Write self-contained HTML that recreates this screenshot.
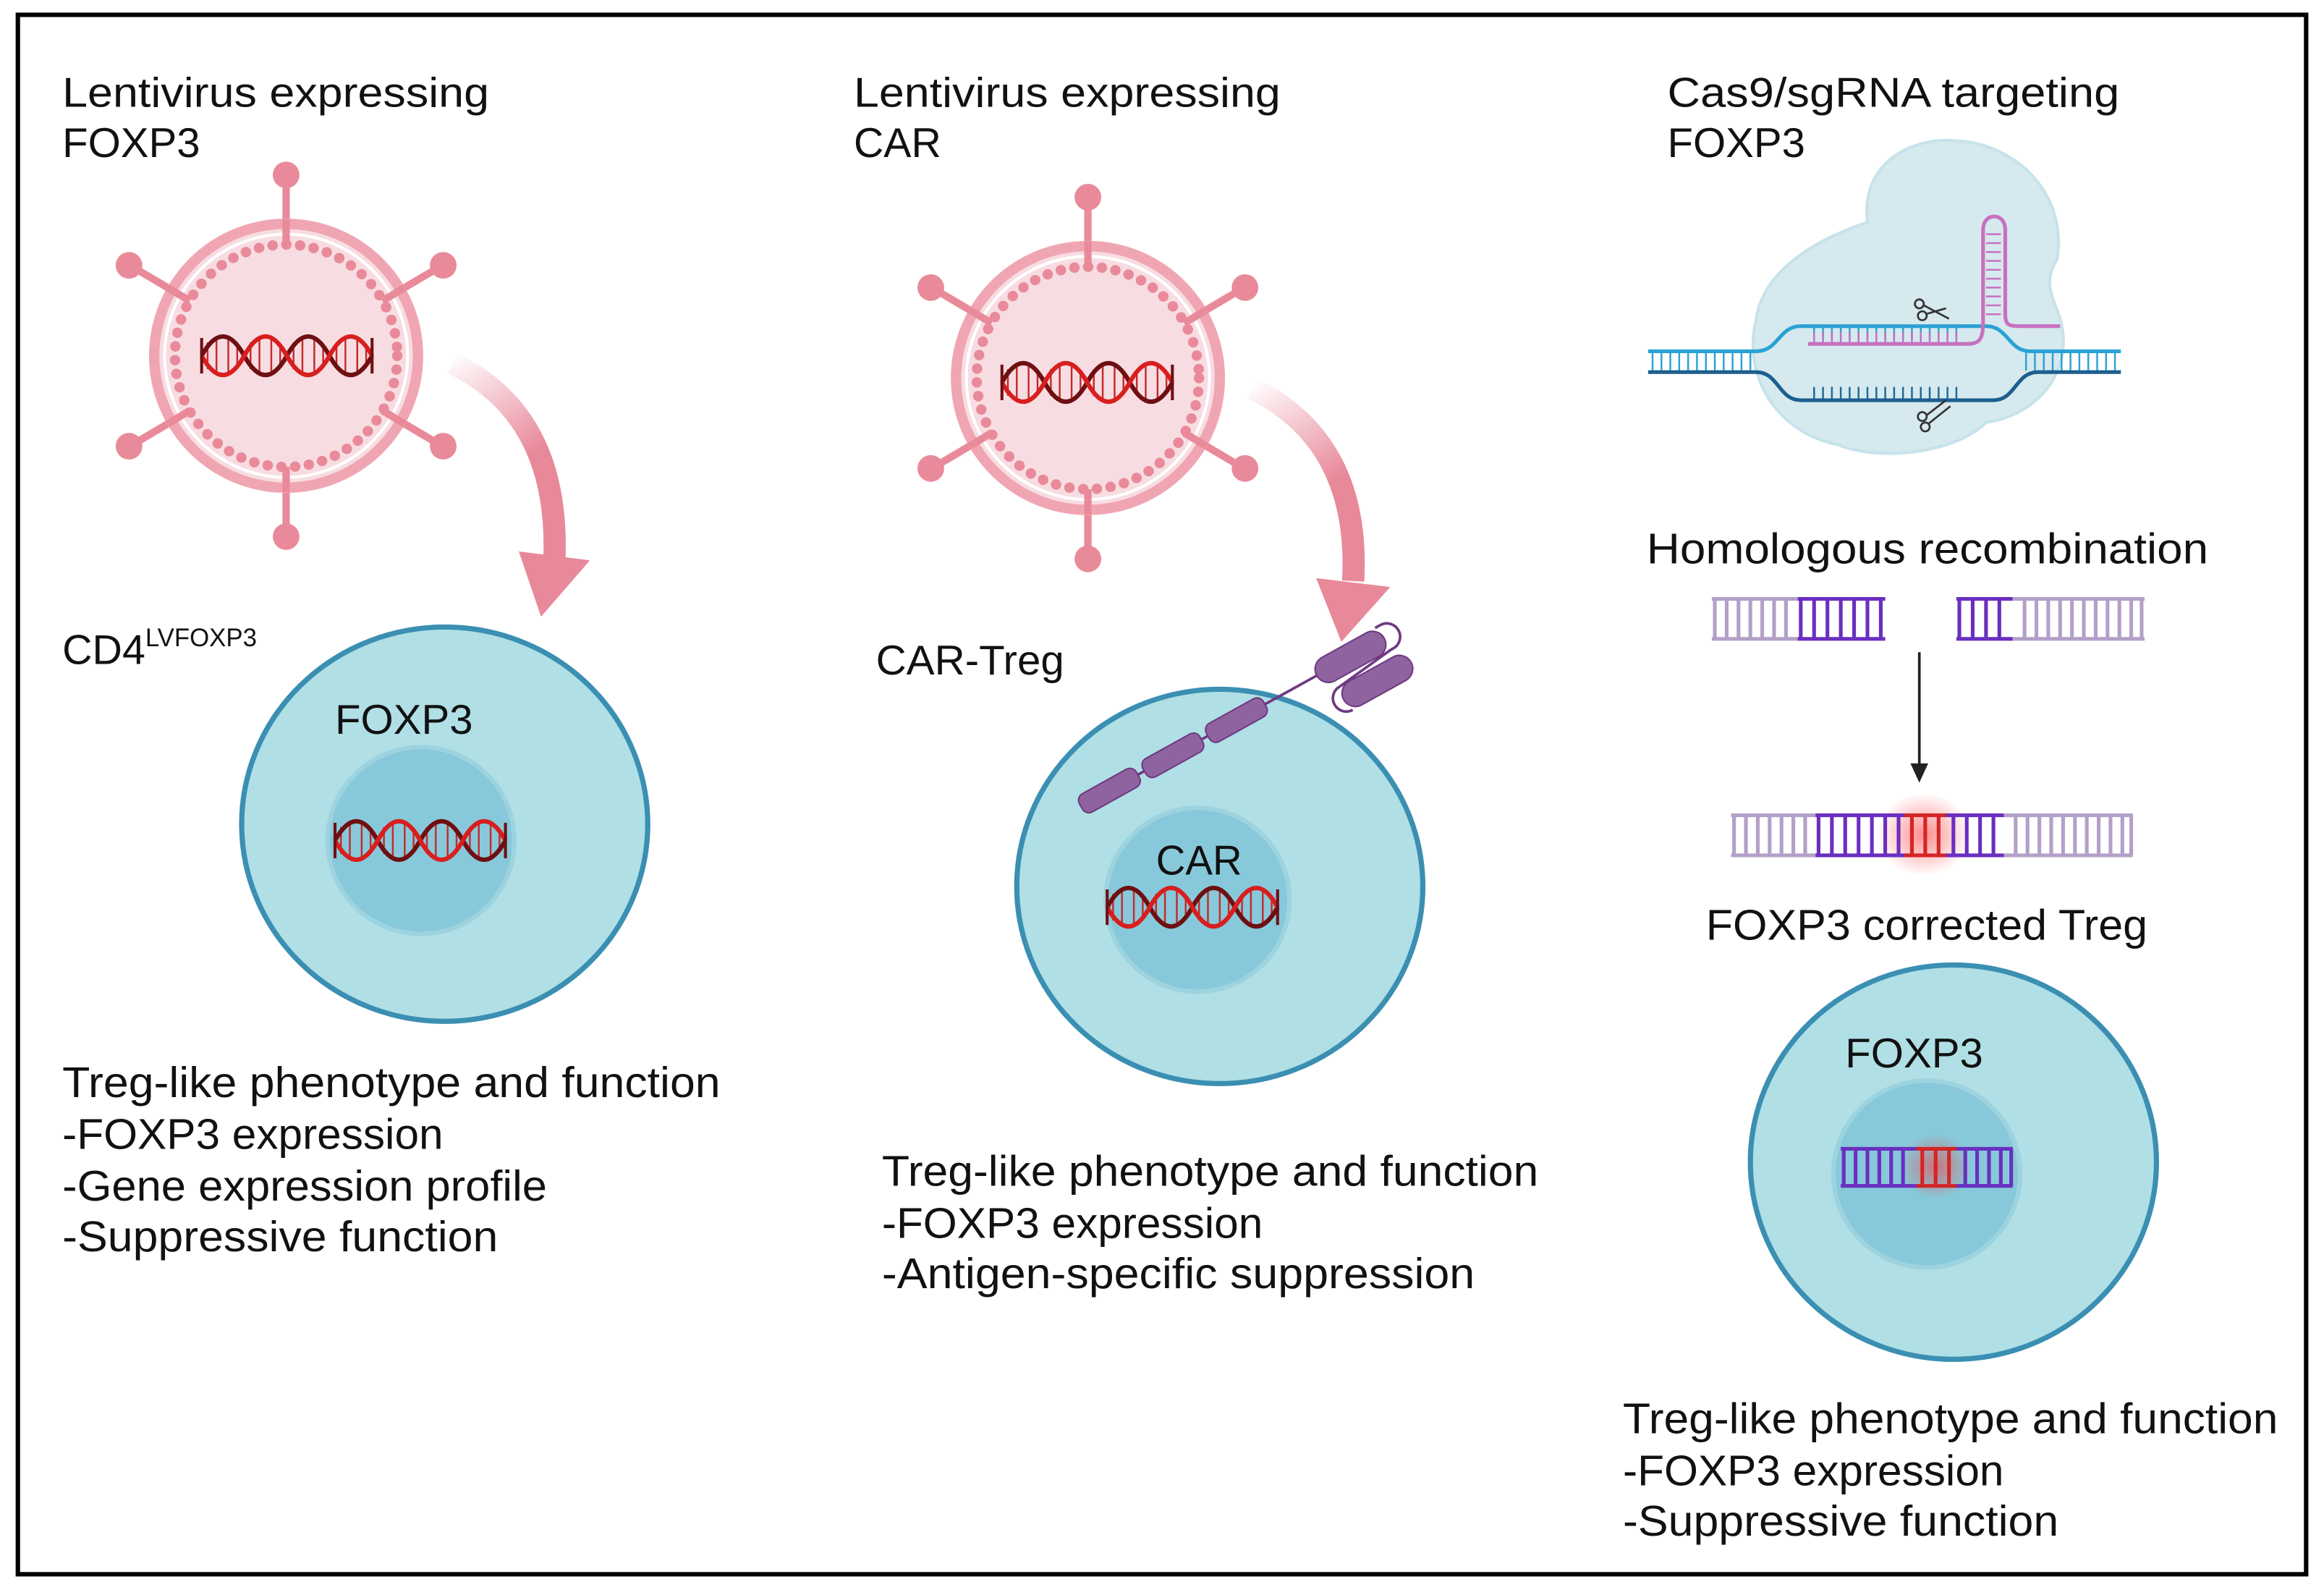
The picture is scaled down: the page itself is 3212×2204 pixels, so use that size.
<!DOCTYPE html>
<html><head><meta charset="utf-8"><style>
html,body{margin:0;padding:0;background:#fff}
svg{display:block}
text{font-family:"Liberation Sans",Arial,sans-serif;fill:#111}
</style></head><body>
<svg width="3212" height="2204" viewBox="0 0 1568 1076" xmlns="http://www.w3.org/2000/svg">
<defs>
<g id="dna">
  <g stroke="#c42a2a" stroke-width="1.2">
    <line x1="4" y1="-9" x2="4" y2="9"/><line x1="10" y1="-12" x2="10" y2="12"/><line x1="18" y1="-12" x2="18" y2="12"/><line x1="24" y1="-8" x2="24" y2="8"/>
    <line x1="33" y1="-9" x2="33" y2="9"/><line x1="39" y1="-12" x2="39" y2="12"/><line x1="47" y1="-12" x2="47" y2="12"/><line x1="53" y1="-8" x2="53" y2="8"/>
    <line x1="62" y1="-9" x2="62" y2="9"/><line x1="68" y1="-12" x2="68" y2="12"/><line x1="76" y1="-12" x2="76" y2="12"/><line x1="82" y1="-8" x2="82" y2="8"/>
    <line x1="91" y1="-9" x2="91" y2="9"/><line x1="97" y1="-12" x2="97" y2="12"/><line x1="105" y1="-12" x2="105" y2="12"/><line x1="111" y1="-8" x2="111" y2="8"/>
  </g>
  <path d="M0,0 Q14.4,-26 28.75,0 T57.5,0 T86.25,0 T115,0" fill="none" stroke="#6e0f12" stroke-width="3"/>
  <path d="M0,0 Q14.4,26 28.75,0 T57.5,0 T86.25,0 T115,0" fill="none" stroke="#d81e1e" stroke-width="3"/>
  <line x1="0" y1="-12" x2="0" y2="12" stroke="#6e0f12" stroke-width="2"/>
  <line x1="115" y1="-12" x2="115" y2="12" stroke="#6e0f12" stroke-width="2"/>
</g>
<g id="virus">
  <g stroke="#e98a9a" stroke-width="5">
    <line x1="0" y1="-92" x2="0" y2="-118"/><line x1="0" y1="92" x2="0" y2="118"/>
    <line x1="-80" y1="-46" x2="-102" y2="-59"/><line x1="80" y1="-46" x2="102" y2="-59"/>
    <line x1="-80" y1="46" x2="-102" y2="59"/><line x1="80" y1="46" x2="102" y2="59"/>
  </g>
  <g fill="#e98a9a">
    <circle cx="0" cy="-122" r="9"/><circle cx="0" cy="122" r="9"/>
    <circle cx="-106" cy="-61" r="9"/><circle cx="106" cy="-61" r="9"/>
    <circle cx="-106" cy="61" r="9"/><circle cx="106" cy="61" r="9"/>
  </g>
  <circle r="89" fill="#f7dde2" stroke="#f0a6b2" stroke-width="7"/>
  <circle r="82" fill="none" stroke="#fff" stroke-width="2"/>
  <circle r="75" fill="none" stroke="#e98a9a" stroke-width="7" stroke-dasharray="0.1 9.2" stroke-linecap="round"/>
  <g stroke="#e98a9a" stroke-width="5">
    <line x1="0" y1="-92" x2="0" y2="-75"/><line x1="0" y1="92" x2="0" y2="75"/>
    <line x1="-80" y1="-46" x2="-65" y2="-37"/><line x1="80" y1="-46" x2="65" y2="-37"/>
    <line x1="-80" y1="46" x2="-65" y2="37"/><line x1="80" y1="46" x2="65" y2="37"/>
  </g>
</g>
<linearGradient id="ag1" gradientUnits="userSpaceOnUse" x1="305" y1="240" x2="380" y2="360">
  <stop offset="0" stop-color="#e8899a" stop-opacity="0"/><stop offset="0.6" stop-color="#e8899a"/>
</linearGradient>
<linearGradient id="ag2" gradientUnits="userSpaceOnUse" x1="845" y1="258" x2="915" y2="380">
  <stop offset="0" stop-color="#e8899a" stop-opacity="0"/><stop offset="0.6" stop-color="#e8899a"/>
</linearGradient>
<radialGradient id="glow"><stop offset="0" stop-color="#ff3030" stop-opacity="0.55"/><stop offset="1" stop-color="#ff3030" stop-opacity="0"/></radialGradient>
</defs>

<rect x="12" y="10" width="1544" height="1052" fill="#fff" stroke="#000" stroke-width="3"/>

<!-- Panel 1 -->
<text x="42" y="72" font-size="28" textLength="288" lengthAdjust="spacingAndGlyphs">Lentivirus expressing</text>
<text x="42" y="106" font-size="28" textLength="93" lengthAdjust="spacingAndGlyphs">FOXP3</text>
<use href="#virus" x="193" y="240"/>
<use href="#dna" x="136" y="240"/>
<path d="M305,245 Q378,280 374,378" fill="none" stroke="url(#ag1)" stroke-width="15"/>
<polygon points="350,372 398,378 365,416" fill="#e8899a"/>
<text x="42" y="448" font-size="28">CD4<tspan font-size="17" dy="-12">LVFOXP3</tspan></text>
<ellipse cx="300" cy="556" rx="137" ry="133" fill="#b0dfe5" stroke="#3a8fb2" stroke-width="3.5"/>
<circle cx="284" cy="567" r="63" fill="#87c9da" stroke="#9dd3df" stroke-width="3"/>
<text x="226" y="495" font-size="28" textLength="93" lengthAdjust="spacingAndGlyphs">FOXP3</text>
<use href="#dna" x="226" y="567"/>
<text x="42" y="740" font-size="29" textLength="444" lengthAdjust="spacingAndGlyphs">Treg-like phenotype and function</text>
<text x="42" y="775" font-size="29" textLength="257" lengthAdjust="spacingAndGlyphs">-FOXP3 expression</text>
<text x="42" y="810" font-size="29" textLength="327" lengthAdjust="spacingAndGlyphs">-Gene expression profile</text>
<text x="42" y="844" font-size="29" textLength="294" lengthAdjust="spacingAndGlyphs">-Suppressive function</text>

<!-- Panel 2 -->
<text x="576" y="72" font-size="28" textLength="288" lengthAdjust="spacingAndGlyphs">Lentivirus expressing</text>
<text x="576" y="106" font-size="28" textLength="59" lengthAdjust="spacingAndGlyphs">CAR</text>
<use href="#virus" x="734" y="255"/>
<use href="#dna" x="676" y="258"/>
<path d="M845,262 Q918,298 913,392" fill="none" stroke="url(#ag2)" stroke-width="15"/>
<polygon points="888,390 938,396 905,433" fill="#e8899a"/>
<text x="591" y="455" font-size="28" textLength="127" lengthAdjust="spacingAndGlyphs">CAR-Treg</text>
<ellipse cx="823" cy="598" rx="137" ry="133" fill="#b0dfe5" stroke="#3a8fb2" stroke-width="3.5"/>
<circle cx="808" cy="607" r="62" fill="#87c9da" stroke="#9dd3df" stroke-width="3"/>
<text x="780" y="590" font-size="28" textLength="58" lengthAdjust="spacingAndGlyphs">CAR</text>
<use href="#dna" x="747" y="612"/>
<g transform="translate(731,543) rotate(-29)">
  <line x1="0" y1="0" x2="190" y2="0" stroke="#6e3a80" stroke-width="1.8"/>
  <rect x="-2" y="-7" width="44" height="14" rx="5" fill="#8e63a0" stroke="#6e3a80" stroke-width="1"/>
  <rect x="47" y="-7" width="44" height="14" rx="5" fill="#8e63a0" stroke="#6e3a80" stroke-width="1"/>
  <rect x="96" y="-7" width="44" height="14" rx="5" fill="#8e63a0" stroke="#6e3a80" stroke-width="1"/>
  <rect x="180" y="-9" width="52" height="18" rx="9" fill="#8e63a0" stroke="#6e3a80" stroke-width="1"/>
  <path d="M230,-9 h4 a9,9 0 0 1 0,18 h-2 M232,9 L190,14 M190,14 a9,9 0 0 0 0,18" fill="none" stroke="#6e3a80" stroke-width="1.8"/>
  <rect x="188" y="14" width="52" height="18" rx="9" fill="#8e63a0" stroke="#6e3a80" stroke-width="1"/>
</g>
<text x="595" y="800" font-size="29" textLength="443" lengthAdjust="spacingAndGlyphs">Treg-like phenotype and function</text>
<text x="595" y="835" font-size="29" textLength="257" lengthAdjust="spacingAndGlyphs">-FOXP3 expression</text>
<text x="595" y="869" font-size="29" textLength="400" lengthAdjust="spacingAndGlyphs">-Antigen-specific suppression</text>

<!-- Panel 3 -->
<text x="1125" y="72" font-size="28" textLength="305" lengthAdjust="spacingAndGlyphs">Cas9/sgRNA targeting</text>
<text x="1125" y="106" font-size="28" textLength="93" lengthAdjust="spacingAndGlyphs">FOXP3</text>
<path d="M1185,215 C1190,180 1230,160 1260,150 C1255,110 1290,92 1320,95 C1360,97 1395,130 1388,175 C1378,190 1385,200 1390,215 C1400,250 1375,280 1340,285 C1320,305 1270,312 1240,300 C1200,292 1175,255 1185,215 Z" fill="#d6e9ee" stroke="#c7e2ea" stroke-width="2"/>
<g stroke="#2aa2d4" stroke-width="1.2">
  <path d="M1115,238 v12 M1121,238 v12 M1127,238 v12 M1133,238 v12 M1139,238 v12 M1145,238 v12 M1151,238 v12 M1157,238 v12 M1163,238 v12 M1169,238 v12 M1175,238 v12 M1181,238 v12 M1367,238 v12 M1373,238 v12 M1379,238 v12 M1385,238 v12 M1391,238 v12 M1397,238 v12 M1403,238 v12 M1409,238 v12 M1415,238 v12 M1421,238 v12 M1427,238 v12"/>
  <path d="M1224,221 v8 M1230,221 v8 M1236,221 v8 M1242,221 v8 M1248,221 v8 M1254,221 v8 M1260,221 v8 M1266,221 v8 M1272,221 v8 M1278,221 v8 M1284,221 v8 M1290,221 v8 M1296,221 v8 M1302,221 v8 M1308,221 v8 M1314,221 v8 M1320,221 v8"/>
  <path d="M1224,261 v8 M1230,261 v8 M1236,261 v8 M1242,261 v8 M1248,261 v8 M1254,261 v8 M1260,261 v8 M1266,261 v8 M1272,261 v8 M1278,261 v8 M1284,261 v8 M1290,261 v8 M1296,261 v8 M1302,261 v8 M1308,261 v8 M1314,261 v8 M1320,261 v8" stroke="#1b6a9a"/>
</g>
<path d="M1112,237 H1185 C1200,237 1200,220 1215,220 H1340 C1355,220 1355,237 1370,237 H1431" fill="none" stroke="#2aa2d4" stroke-width="2.5"/>
<path d="M1112,251 H1185 C1200,251 1200,270 1215,270 H1345 C1360,270 1360,251 1375,251 H1431" fill="none" stroke="#1b5f8f" stroke-width="2.5"/>
<g stroke="#c770c0" stroke-width="1.2"><path d="M1340,158 h10 M1340,164 h10 M1340,170 h10 M1340,176 h10 M1340,182 h10 M1340,188 h10 M1340,194 h10 M1340,200 h10 M1340,206 h10 M1340,212 h10 M1224,224 v8 M1230,224 v8 M1236,224 v8 M1242,224 v8 M1248,224 v8 M1254,224 v8 M1260,224 v8 M1266,224 v8 M1272,224 v8 M1278,224 v8 M1284,224 v8 M1290,224 v8 M1296,224 v8 M1302,224 v8 M1308,224 v8 M1314,224 v8 M1320,224 v8"/></g>
<path d="M1220,232 H1328 C1338,232 1338,225 1338,215 V155 C1338,143 1353,143 1353,155 V212 C1353,220 1356,220 1365,220 H1390" fill="none" stroke="#c770c0" stroke-width="2.5"/>
<g fill="none" stroke="#333" stroke-width="1.3">
  <circle cx="1295" cy="205" r="3"/><circle cx="1297" cy="213" r="3"/><path d="M1298,206 L1315,215 M1299,212 L1313,208"/>
  <circle cx="1297" cy="281" r="3"/><circle cx="1299" cy="288" r="3"/><path d="M1300,280 L1313,270 M1301,286 L1316,274"/>
</g>
<text x="1111" y="380" font-size="29" textLength="379" lengthAdjust="spacingAndGlyphs">Homologous recombination</text>
<g fill="none" stroke-width="2.5">
  <path d="M1155,404 H1215 M1155,431 H1215 M1157,404 v27 M1165,404 v27 M1173,404 v27 M1181,404 v27 M1189,404 v27 M1197,404 v27 M1205,404 v27" stroke="#b3a0c8"/>
  <path d="M1213,404 H1272 M1213,431 H1272 M1215,404 v27 M1224,404 v27 M1233,404 v27 M1242,404 v27 M1251,404 v27 M1260,404 v27 M1269,404 v27" stroke="#6a2fc0"/>
  <path d="M1320,404 H1358 M1320,431 H1358 M1322,404 v27 M1331,404 v27 M1340,404 v27 M1349,404 v27" stroke="#6a2fc0"/>
  <path d="M1358,404 H1447 M1358,431 H1447 M1366,404 v27 M1374,404 v27 M1382,404 v27 M1390,404 v27 M1398,404 v27 M1406,404 v27 M1414,404 v27 M1422,404 v27 M1430,404 v27 M1438,404 v27 M1445,404 v27" stroke="#b3a0c8"/>
</g>
<line x1="1295" y1="440" x2="1295" y2="517" stroke="#222" stroke-width="1.8"/>
<polygon points="1289,515 1301,515 1295,528" fill="#222"/>
<ellipse cx="1298" cy="563" rx="32" ry="28" fill="url(#glow)"/>
<g fill="none" stroke-width="2.5">
  <path d="M1168,550 H1227 M1168,577 H1227 M1170,550 v27 M1178,550 v27 M1186,550 v27 M1194,550 v27 M1202,550 v27 M1210,550 v27 M1218,550 v27" stroke="#b3a0c8"/>
  <path d="M1225,550 H1287 M1225,577 H1287 M1227,550 v27 M1236,550 v27 M1245,550 v27 M1254,550 v27 M1263,550 v27 M1272,550 v27 M1281,550 v27 M1312,550 H1353 M1312,577 H1353 M1318,550 v27 M1327,550 v27 M1336,550 v27 M1345,550 v27" stroke="#6a2fc0"/>
  <path d="M1285,550 H1313 M1285,577 H1313 M1290,550 v27 M1299,550 v27 M1308,550 v27" stroke="#d42525"/>
  <path d="M1352,550 H1439 M1352,577 H1439 M1360,550 v27 M1368,550 v27 M1376,550 v27 M1384,550 v27 M1392,550 v27 M1400,550 v27 M1408,550 v27 M1416,550 v27 M1424,550 v27 M1432,550 v27 M1438,550 v27" stroke="#b3a0c8"/>
</g>
<text x="1151" y="634" font-size="29" textLength="298" lengthAdjust="spacingAndGlyphs">FOXP3 corrected Treg</text>
<ellipse cx="1318" cy="784" rx="137" ry="133" fill="#b0dfe5" stroke="#3a8fb2" stroke-width="3.5"/>
<circle cx="1300" cy="792" r="63" fill="#87c9da" stroke="#9dd3df" stroke-width="3"/>
<text x="1245" y="720" font-size="28" textLength="93" lengthAdjust="spacingAndGlyphs">FOXP3</text>
<ellipse cx="1306" cy="787" rx="24" ry="22" fill="url(#glow)"/>
<g fill="none" stroke-width="2.5">
  <path d="M1242,775 H1294 M1242,800 H1294 M1244,775 v25 M1252,775 v25 M1260,775 v25 M1268,775 v25 M1276,775 v25 M1284,775 v25 M1319,775 H1358 M1319,800 H1358 M1326,775 v25 M1334,775 v25 M1342,775 v25 M1350,775 v25 M1357,775 v25" stroke="#6a2fc0"/>
  <path d="M1293,775 H1320 M1293,800 H1320 M1297,775 v25 M1306,775 v25 M1315,775 v25" stroke="#d42525"/>
</g>
<text x="1095" y="967" font-size="29" textLength="442" lengthAdjust="spacingAndGlyphs">Treg-like phenotype and function</text>
<text x="1095" y="1002" font-size="29" textLength="257" lengthAdjust="spacingAndGlyphs">-FOXP3 expression</text>
<text x="1095" y="1036" font-size="29" textLength="294" lengthAdjust="spacingAndGlyphs">-Suppressive function</text>
</svg>
</body></html>
